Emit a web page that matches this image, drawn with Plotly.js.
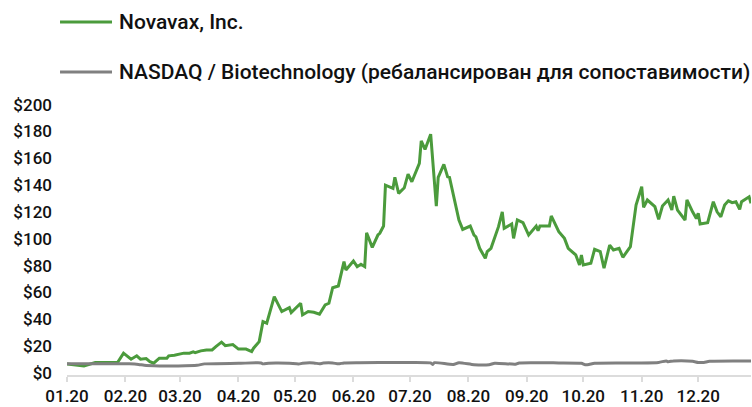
<!DOCTYPE html>
<html>
<head>
<meta charset="utf-8">
<script src="https://cdn.plot.ly/plotly-3.0.1.min.js"></script>
<style>html,body{margin:0;padding:0;background:#fff;}#chart{width:752px;height:407px;}</style>
</head>
<body>
<div id="chart"></div>
<script>
const seriesNames = ["Novavax, Inc.", "NASDAQ / Biotechnology (ребалансирован для сопоставимости)"];
const seriesColors = ["#4b9b3c", "#808080"];

const novavaxDates = ["2020-01-01","2020-01-10","2020-01-16","2020-01-21","2020-01-24","2020-01-28","2020-01-31","2020-02-04","2020-02-07","2020-02-09","2020-02-12","2020-02-14","2020-02-16","2020-02-19","2020-02-23","2020-02-24","2020-02-27","2020-03-01","2020-03-03","2020-03-06","2020-03-08","2020-03-09","2020-03-12","2020-03-15","2020-03-18","2020-03-20","2020-03-23","2020-03-25","2020-03-29","2020-04-01","2020-04-05","2020-04-08","2020-04-09","2020-04-12","2020-04-14","2020-04-16","2020-04-20","2020-04-24","2020-04-28","2020-04-29","2020-05-04","2020-05-05","2020-05-08","2020-05-11","2020-05-14","2020-05-17","2020-05-19","2020-05-21","2020-05-24","2020-05-27","2020-05-28","2020-06-01","2020-06-03","2020-06-05","2020-06-07","2020-06-08","2020-06-11","2020-06-14","2020-06-15","2020-06-17","2020-06-18","2020-06-22","2020-06-23","2020-06-25","2020-06-28","2020-06-30","2020-07-02","2020-07-06","2020-07-07","2020-07-09","2020-07-12","2020-07-15","2020-07-16","2020-07-19","2020-07-21","2020-07-22","2020-07-27","2020-07-29","2020-08-02","2020-08-04","2020-08-05","2020-08-07","2020-08-10","2020-08-11","2020-08-13","2020-08-17","2020-08-19","2020-08-20","2020-08-24","2020-08-25","2020-08-27","2020-08-30","2020-09-02","2020-09-06","2020-09-07","2020-09-08","2020-09-13","2020-09-14","2020-09-16","2020-09-18","2020-09-21","2020-09-23","2020-09-27","2020-09-29","2020-09-30","2020-10-01","2020-10-05","2020-10-07","2020-10-10","2020-10-12","2020-10-15","2020-10-17","2020-10-20","2020-10-22","2020-10-26","2020-10-29","2020-11-01","2020-11-02","2020-11-04","2020-11-08","2020-11-10","2020-11-12","2020-11-15","2020-11-17","2020-11-18","2020-11-20","2020-11-24","2020-11-25","2020-11-28","2020-11-30","2020-12-01","2020-12-02","2020-12-06","2020-12-09","2020-12-11","2020-12-13","2020-12-15","2020-12-17","2020-12-19","2020-12-21","2020-12-23","2020-12-24","2020-12-28","2020-12-29"];
const novavaxValues = [6.7,5.2,7.7,8.0,7.7,8.0,14.7,10.2,12.7,10.2,10.7,8.4,7.2,10.9,10.9,12.7,13.2,13.9,14.7,14.7,15.6,15.1,16.4,17.1,17.1,19.6,22.9,20.3,21.1,17.7,17.7,15.9,18.4,23.3,38.2,37.0,56.8,45.7,48.6,44.9,51.9,43.2,45.7,45.2,43.7,50.7,51.9,63.5,64.8,82.9,76.7,83.4,79.2,81.0,79.2,104.5,93.6,102.8,104.1,109.5,140.0,137.6,145.8,133.9,138.0,148.2,142.5,156.2,173.0,166.6,178.0,124.4,145.8,155.5,146.2,145.8,114.0,107.0,109.5,102.8,101.5,92.9,85.4,90.4,92.9,109.0,120.1,107.8,111.0,100.3,114.0,112.0,102.8,109.5,106.0,109.5,109.5,117.0,111.5,105.3,100.3,92.9,87.9,80.4,87.9,80.4,81.7,92.1,90.4,78.0,95.3,91.6,92.9,86.2,94.1,125.1,138.8,123.4,128.9,123.9,114.5,124.4,128.9,121.4,131.8,121.4,114.0,128.9,120.1,115.2,119.0,111.0,112.0,127.6,120.1,116.4,125.1,128.3,126.9,127.6,121.9,127.6,131.3,126.4];

const indexDates = ["2020-01-01","2020-01-18","2020-02-03","2020-02-08","2020-02-11","2020-02-19","2020-02-29","2020-03-10","2020-03-14","2020-04-01","2020-04-13","2020-04-14","2020-04-17","2020-04-22","2020-04-28","2020-05-03","2020-05-05","2020-05-11","2020-05-14","2020-05-16","2020-05-21","2020-05-24","2020-05-27","2020-06-04","2020-06-25","2020-07-12","2020-07-13","2020-07-14","2020-07-24","2020-07-27","2020-08-04","2020-08-12","2020-08-15","2020-08-26","2020-08-28","2020-09-18","2020-09-30","2020-10-02","2020-10-04","2020-10-07","2020-10-30","2020-11-10","2020-11-14","2020-11-15","2020-11-18","2020-11-28","2020-12-01","2020-12-04","2020-12-07","2020-12-29"];
const indexValues = [6.7,6.7,6.7,6.3,5.6,5.2,5.2,5.6,6.7,7.1,7.4,6.7,7.2,7.3,7.1,6.6,7.2,7.4,6.7,7.3,7.4,6.7,7.4,7.6,7.7,7.4,6.3,7.6,6.3,7.6,6.1,6.1,7.2,6.5,7.4,7.4,7.1,6.1,6.3,7.2,7.4,7.8,8.9,8.3,8.9,8.6,7.7,7.8,8.6,8.8];

const tickDates = ["2020-01-01","2020-02-01","2020-03-01","2020-04-01","2020-05-01","2020-06-01","2020-07-01","2020-08-01","2020-09-01","2020-10-01","2020-11-01","2020-12-01"];
const tickLabels = ["01.20","02.20","03.20","04.20","05.20","06.20","07.20","08.20","09.20","10.20","11.20","12.20"];
const yTickValues = [0,20,40,60,80,100,120,140,160,180,200];
const yTickLabels = ["$0","$20","$40","$60","$80","$100","$120","$140","$160","$180","$200"];

const FONT = "Roboto, 'Liberation Sans', sans-serif";

const traces = [
  {
    x: novavaxDates, y: novavaxValues, name: seriesNames[0], type: "scatter", mode: "lines",
    line: {color: seriesColors[0], width: 3}
  },
  {
    x: indexDates, y: indexValues, name: seriesNames[1], type: "scatter", mode: "lines",
    line: {color: seriesColors[1], width: 3, shape: "spline", smoothing: 0.6}
  }
];

// Legend drawn as key lines + text (paper coordinates above the plot area)
const legendRowsY = [1.3026, 1.1181];
const legendShapes = seriesNames.map((n, i) => ({
  type: "line", xref: "paper", yref: "paper",
  x0: -0.0102, x1: 0.0658, y0: legendRowsY[i], y1: legendRowsY[i],
  line: {color: seriesColors[i], width: 3}
}));
const legendTexts = seriesNames.map((n, i) => ({
  text: n, xref: "paper", yref: "paper", x: 0.0731, y: legendRowsY[i],
  xanchor: "left", yanchor: "middle", showarrow: false,
  font: {family: FONT, size: 21, color: "#111111", weight: 500}
}));

const layout = {
  width: 752, height: 407,
  margin: {l: 67, r: 1, t: 104, b: 32},
  paper_bgcolor: "#ffffff", plot_bgcolor: "#ffffff",
  font: {family: FONT, color: "#111111", size: 16},
  showlegend: false,
  shapes: legendShapes,
  annotations: legendTexts,
  xaxis: {
    type: "date",
    range: ["2020-01-01", "2020-12-29"],
    tickmode: "array", tickvals: tickDates, ticktext: tickLabels,
    tickangle: 0,
    showgrid: false, zeroline: false,
    showline: true, linecolor: "#dcdcdc", linewidth: 2,
    ticks: "outside", ticklen: 5, tickcolor: "#dcdcdc", tickwidth: 2,
    tickfont: {family: FONT, size: 17, color: "#111111", weight: 500},
    automargin: false, fixedrange: true
  },
  yaxis: {
    range: [-1.6, 200.5],
    tickmode: "array", tickvals: yTickValues, ticktext: yTickLabels,
    showgrid: false, zeroline: false, showline: false,
    ticks: "", ticklabelstandoff: 14,
    tickfont: {family: FONT, size: 17, color: "#111111", weight: 500},
    automargin: false, fixedrange: true
  }
};

Plotly.newPlot("chart", traces, layout, {displayModeBar: false, staticPlot: true});
</script>
</body>
</html>
